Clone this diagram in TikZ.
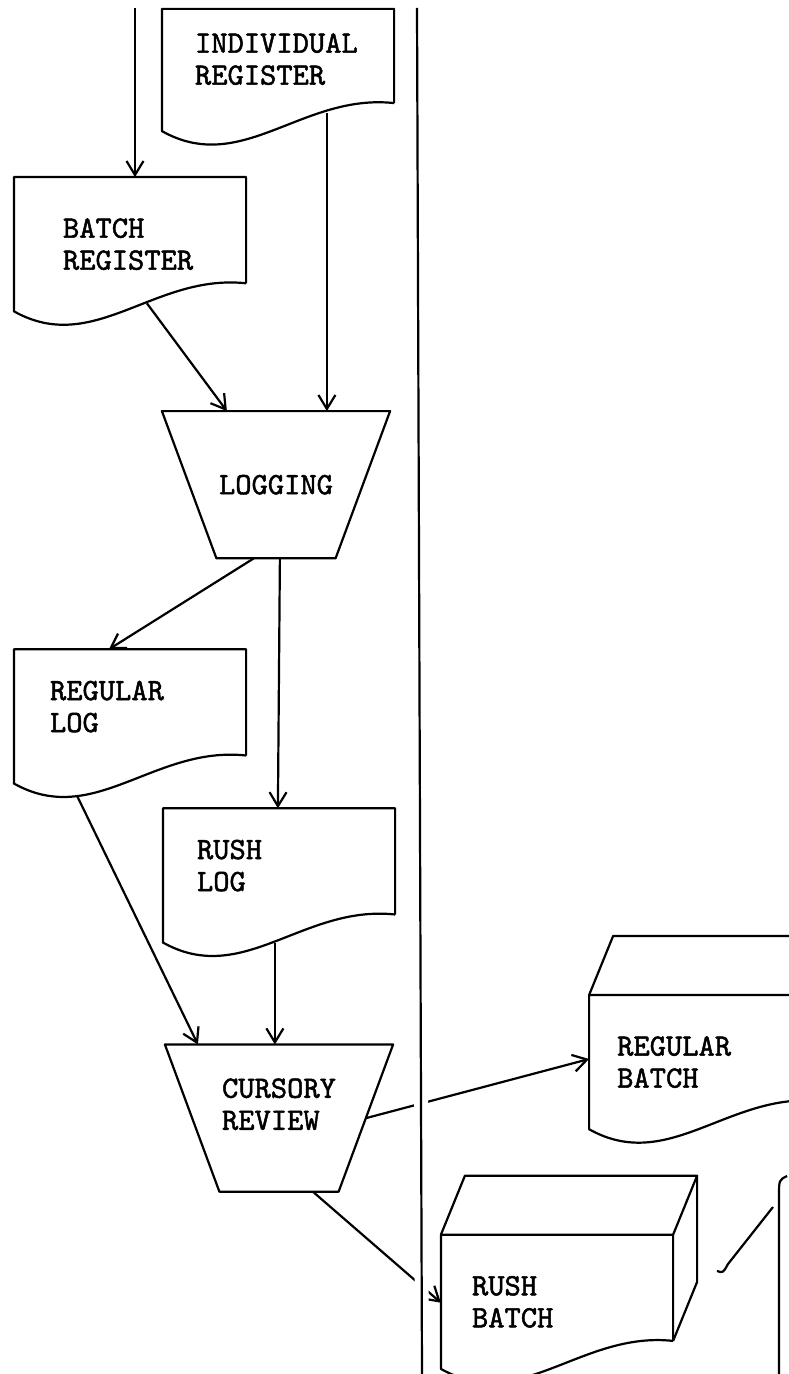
\documentclass[tikz,border=0pt]{standalone}
\usetikzlibrary{
    positioning,
    arrows.meta,
    calc
}

% typewriter face, a little heavier
\font\typefont="[lmmono10-regular.otf]:embolden=1.6" at 15.5pt

% document symbol: wavy bottom, right corner higher than left
\newcommand{\docshape}[1]{%
  \draw ($(#1.south east)+(0,-28)$) -- (#1.north east) -- (#1.north west) -- (#1.south west)
    .. controls +(80,45) and +(-92,-10) .. ($(#1.south east)+(0,-28)$);}

% batch symbol: document with top and side face
\newcommand{\batchshape}[1]{%
  \docshape{#1}
  \draw (#1.north west) -- ++(24,-59) -- ($(#1.north east)+(24,-59)$) -- (#1.north east);
  \draw ($(#1.north east)+(24,-59)$) -- ($(#1.south east)+(24,-87)$) -- ($(#1.south east)+(0,-28)$);}

% manual operation symbol
\newcommand{\funnelshape}[1]{%
  \draw (#1.north west) -- (#1.north east) -- ([xshift=-27.25pt]#1.south east)
    -- ([xshift=27.25pt]#1.south west) -- cycle;}

\begin{document}
\begin{tikzpicture}
[
    x=0.5pt,
    y=-0.5pt,
    font=\fontsize{15.5}{16}\selectfont\typefont,
    line width=1.1pt,
    line join=round,
    doc/.style={
        rectangle,
        inner sep=0pt,
        align=left,
        minimum width=115pt,
        minimum height=66pt,
        text width=#1
    },
    funnel/.style={
        rectangle,
        inner sep=0pt,
        align=left,
        minimum width=113pt,
        minimum height=72.5pt
    },
    arrow/.style={
        -{Straight Barb[length=7pt,width=8.5pt]}
    },
    divider/.style={
        preaction={draw=white, line width=7pt}
    }
]

\useasboundingbox (0,0) rectangle (788,1374);


% =====================
% REGISTERS
% =====================

\node[
doc=83pt,
minimum height=60pt,
text depth=27pt
]
(indiv)
at (278,70)
{INDIVIDUAL\\REGISTER};


\node[
doc=67pt,
below=23pt of indiv,
xshift=-74pt
]
(batchreg)
{BATCH\\REGISTER};



% =====================
% LOGGING
% =====================

\node[
funnel,
below=140pt of indiv,
xshift=-1pt
]
(logging)
{LOGGING};


\node[
doc=80pt,
text depth=26pt,
below=45.5pt of logging,
xshift=-73pt
]
(reglog)
{REGULAR\\LOG};


\node[
doc=82pt,
text depth=26pt,
below=125pt of logging,
xshift=1.5pt
]
(rushlog)
{RUSH\\LOG};



% =====================
% REVIEW
% =====================

\node[
funnel,
text depth=14pt,
below=51pt of rushlog
]
(cursory)
{CURSORY\\REVIEW};


\node[
doc=88pt,
right=98pt of cursory,
yshift=28pt
]
(regbatch)
{REGULAR\\BATCH};


\node[
doc=85pt,
below=21.5pt of cursory,
xshift=139pt
]
(rushbatch)
{RUSH\\BATCH};



% =====================
% OUTLINES
% =====================

\docshape{indiv}
\docshape{batchreg}
\funnelshape{logging}
\docshape{reglog}
\docshape{rushlog}
\funnelshape{cursory}
\batchshape{regbatch}
\batchshape{rushbatch}



% =====================
% CONNECTIONS
% =====================

\coordinate (in) at (135,8);

\draw[arrow]
(in)
--
(in |- batchreg.north);


\draw[arrow]
($(batchreg.south west)+(133,-8)$)
--
($(logging.north west)+(65,0)$);


\draw[arrow]
($(indiv.south west)+(165,-18)$) coordinate (indivout)
--
(indivout |- logging.north);


\draw[arrow]
($(logging.south west)+(92,0)$)
--
($(reglog.north west)+(95,0)$);


\draw[arrow]
($(logging.south west)+(118,0)$)
--
($(rushlog.north west)+(115,0)$);


\draw[arrow]
($(reglog.south west)+(63,12)$)
--
($(cursory.north west)+(33,0)$);


\draw[arrow]
($(rushlog.south west)+(112,0)$) coordinate (rushout)
--
(rushout |- cursory.north);


\draw[arrow]
([xshift=-13.5pt]cursory.east)
--
($(regbatch.north west)+(0,64)$);


\draw[arrow]
($(cursory.south west)+(148,0)$)
--
($(rushbatch.north west)+(0,68)$);



% =====================
% COLUMN DIVIDER
% =====================

\coordinate (divtop) at (417,8);
\coordinate (divbot) at (422,1374);

\draw[divider]
(divtop)
--
(divbot);


% next column, cut off at the page edge
\draw (717,1271) .. controls (723,1273) .. (728,1264) -- (773,1207);
\draw (787,1176) .. controls (779,1180) .. (779,1196) -- (779,1374);


\end{tikzpicture}
\end{document}
